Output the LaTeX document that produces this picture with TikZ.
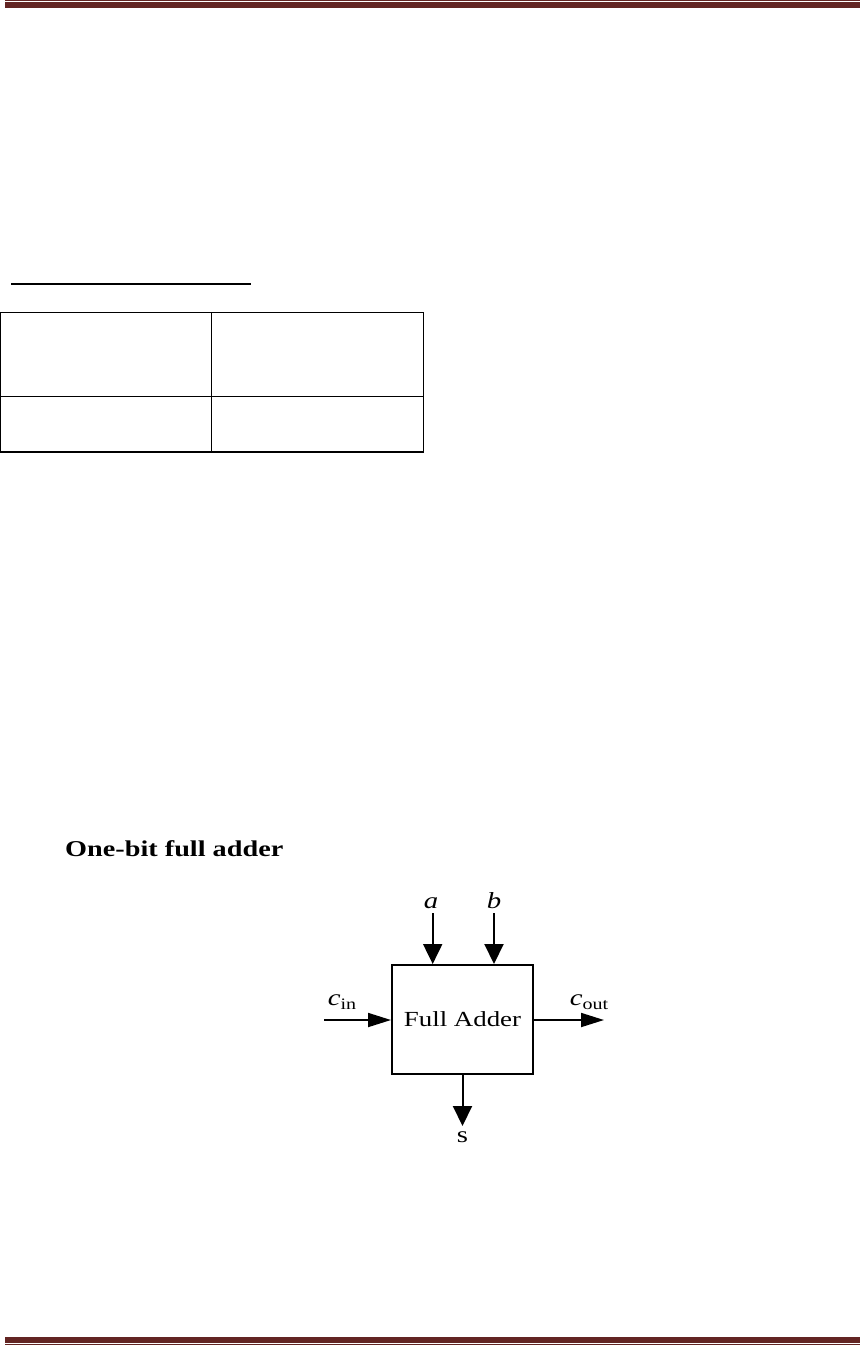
\documentclass[tikz,border=0pt]{standalone}
\usepackage{fontspec}
\setmainfont{Liberation Serif}
\usetikzlibrary{arrows.meta}
\definecolor{barred}{HTML}{632523}
\tikzset{
  bar/.style={fill=barred, draw=none},
  varr/.style={line width=2pt, -{Triangle[length=20pt,width=19pt]}},
  harr/.style={line width=1.8pt, -{Triangle[length=23pt,width=14pt]}},
  lbl/.style={inner sep=0pt, font=\fontsize{23}{23}\selectfont},
  tab/.style={line width=1.1pt},
}
\newcommand{\wide}[1]{\scalebox{1.25}[1]{#1}}
\begin{document}
\begin{tikzpicture}[x=1pt,y=-1pt]
\useasboundingbox (0,0) rectangle (860,1345);
% header and footer bars
\fill[bar] (5,0) rectangle (860,1.2);
\fill[bar] (5,2.3) rectangle (860,7.7);
\fill[bar] (5,1336.7) rectangle (860,1342.7);
\fill[bar] (5,1343.8) rectangle (860,1345);
% underline
\fill (11,282.5) rectangle (251,284.5);
% table
\draw[tab] (0.6,312.7) rectangle (423.5,452);
\draw[tab] (211.3,312.7) -- (211.3,452);
\draw[tab] (0.6,396.3) -- (423.5,396.3);
% heading
\node[anchor=base west, inner sep=0pt, font=\fontsize{22.6}{22.6}\selectfont\bfseries] (head) at (65,856.7) {\wide{One-bit full adder}};
% full adder block
\node[draw, line width=2pt, minimum width=141pt, minimum height=109pt, inner sep=0pt, font=\fontsize{21.5}{21.5}\selectfont] (fa) at (462.5,1019.5) {\wide{Full Adder}};
% labels
\node[lbl] (la) at (431,903) {\wide{\itshape a}};
\node[lbl] (lb) at (494,901) {\wide{\itshape b}};
\node[lbl] (lcin) at (342,1002) {\wide{{\itshape c}\raisebox{-0.35ex}{\fontsize{16}{16}\selectfont in}}};
\node[lbl] (lcout) at (589,1002) {\wide{{\itshape c}\raisebox{-0.35ex}{\fontsize{16}{16}\selectfont out}}};
\node[lbl] (ls) at (462.5,1137) {\wide{s}};
% connectors
\coordinate (a0) at (432.7,913);
\coordinate (b0) at (494,913);
\coordinate (cin0) at (324,1020);
\coordinate (cout1) at (604,1020);
\coordinate (s1) at (462.5,1126);
\draw[varr] (a0) -- (a0 |- fa.north);
\draw[varr] (b0) -- (b0 |- fa.north);
\draw[harr] (cin0) -- (cin0 -| fa.west);
\draw[harr] (cout1 -| fa.east) -- (cout1);
\draw[varr] (fa.south) -- (s1);
\end{tikzpicture}
\end{document}
